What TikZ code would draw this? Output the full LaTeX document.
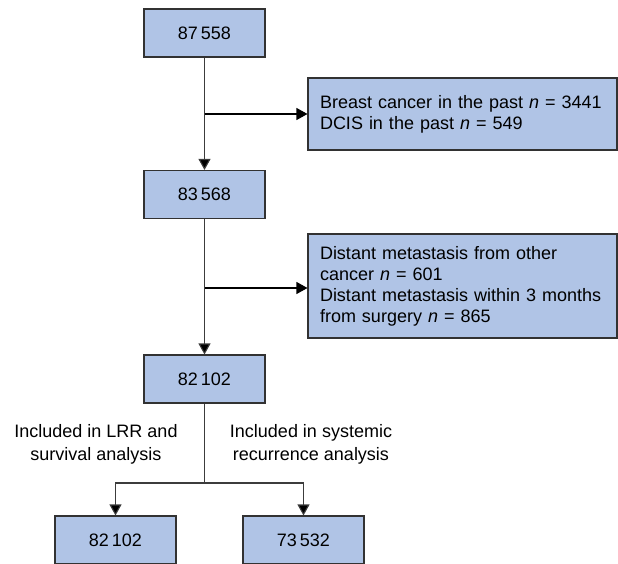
\documentclass[tikz,border=0pt]{standalone}
\usepackage{fontspec}
\setmainfont{Liberation Sans}
\usepackage{tikz}
\usetikzlibrary{arrows.meta, positioning}

\definecolor{boxblue}{RGB}{176,196,230}
\definecolor{edgegray}{RGB}{50,50,50}
\definecolor{linegray}{RGB}{60,60,60}

\begin{document}
\begin{tikzpicture}[
    x=1pt, y=-1pt,
    font=\fontsize{18}{21}\selectfont,
    count/.style={rectangle, draw=edgegray, line width=1.1pt, fill=boxblue, minimum width=121pt, minimum height=48pt, inner sep=0pt},
    excl/.style={rectangle, draw=edgegray, line width=1.1pt, fill=boxblue, minimum width=309pt, text width=285pt, inner xsep=12pt, align=left},
    note/.style={align=center, font=\fontsize{18}{23}\selectfont},
    arrow/.style={line width=1.1pt, draw=linegray, -{Triangle[length=11pt, width=12pt, fill=black]}}
]
\useasboundingbox (0,0) rectangle (618,564);

% Main counts
\node[count] (all) at (204.5,33) {87\,558};
\node[count] (noprev) at (204.5,194.5) {83\,568};
\node[count] (nometa) at (204.5,379) {82\,102};

% Exclusions
\node[excl, minimum height=72pt] (prevca) at (462.5,114) {Breast cancer in the past \textit{n} = 3441\\DCIS in the past \textit{n} = 549};
\node[excl, minimum height=104pt] (meta) at (462.5,286) {Distant metastasis from other\\cancer \textit{n} = 601\\Distant metastasis within 3 months\\from surgery \textit{n} = 865};

% Analysis groups
\node[note] (lrrlab) at (96,444) {Included in LRR and\\survival analysis};
\node[note] (syslab) at (311,444) {Included in systemic\\recurrence analysis};
\node[count] (lrr) at (115.5,540) {82\,102};
\node[count] (sys) at (303.5,540) {73\,532};

% Connections
\draw[arrow] (all) -- (noprev);
\draw[arrow] (noprev) -- (nometa);
\coordinate (j1) at (all |- prevca.west);
\coordinate (j2) at (noprev |- 0,288);
\draw[arrow, draw=black] (j1) -- (prevca.west |- j1);
\draw[arrow, draw=black] (j2) -- (meta.west |- j2);

\coordinate (split) at (nometa |- 0,483);
\draw[line width=1.1pt, draw=linegray] (nometa.south) -- (split);
\draw[arrow] (split) -| (lrr.north);
\draw[arrow] (split) -| (sys.north);

\end{tikzpicture}
\end{document}
